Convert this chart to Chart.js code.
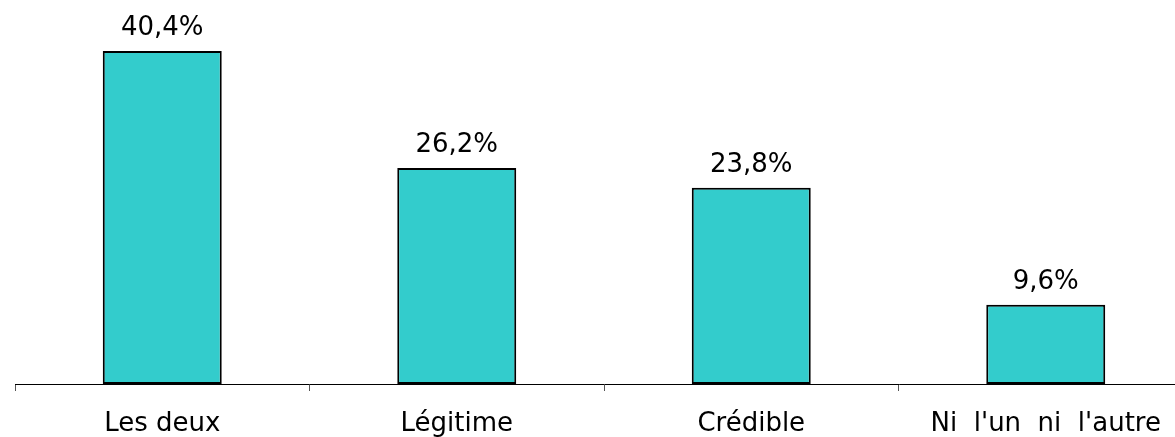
<!DOCTYPE html>
<html>
<head>
<meta charset="utf-8">
<script src="https://cdn.jsdelivr.net/npm/chart.js@4.4.1/dist/chart.umd.min.js"></script>
<style>
  html, body { margin: 0; padding: 0; background: #fff; overflow: hidden; }
  #wrap { width: 1200px; height: 437px; }
</style>
</head>
<body>
<div id="wrap"><canvas id="chart" width="1200" height="437"></canvas></div>
<script>
const categories = ["Les deux", "Légitime", "Crédible", "Ni\u00a0 l'un\u00a0 ni\u00a0 l'autre"];
const values = [40.4, 26.2, 23.8, 9.6];
const valueLabels = ["40,4%", "26,2%", "23,8%", "9,6%"];

const FONT = "'DejaVu Sans', Verdana, sans-serif";

// writes the percentage above each bar
const barLabels = {
  id: "barLabels",
  afterDatasetsDraw(chart) {
    const ctx = chart.ctx;
    const meta = chart.getDatasetMeta(0);
    ctx.save();
    ctx.font = "26px " + FONT;
    ctx.fillStyle = "#000";
    ctx.textAlign = "center";
    ctx.textBaseline = "alphabetic";
    meta.data.forEach((bar, i) => {
      ctx.fillText(valueLabels[i], bar.x, bar.y - 16);
    });
    ctx.restore();
  }
};

new Chart(document.getElementById("chart"), {
  type: "bar",
  data: {
    labels: categories,
    datasets: [{
      data: values,
      backgroundColor: "#33CCCC",
      borderColor: "#000",
      borderWidth: 2,
      borderSkipped: false,
      categoryPercentage: 1,
      barPercentage: 0.404
    }]
  },
  options: {
    responsive: false,
    animation: false,
    layout: { padding: { left: 15, right: 7, top: 0, bottom: 0 } },
    plugins: {
      legend: { display: false },
      tooltip: { enabled: false }
    },
    scales: {
      y: {
        display: false,
        min: 0,
        max: 46.58
      },
      x: {
        afterFit(scale) { scale.height = 53; },
        border: { display: true, color: "#000", width: 1 },
        grid: {
          offset: true,
          drawOnChartArea: false,
          drawTicks: true,
          tickLength: 7,
          color: "#555"
        },
        ticks: {
          color: "#000",
          padding: 18,
          maxRotation: 0,
          autoSkip: false,
          font: { family: FONT, size: 26 }
        }
      }
    }
  },
  plugins: [barLabels]
});
</script>
</body>
</html>
